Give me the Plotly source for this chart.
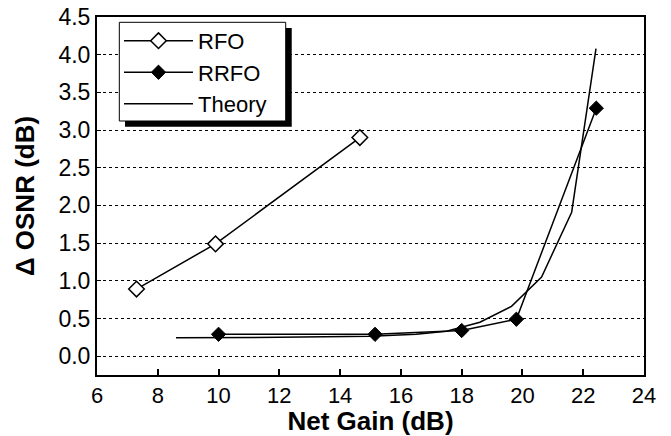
import plotly.graph_objects as go

# Data
rfo_gain = [7.3, 9.9, 14.65]
rfo_dosnr = [0.89, 1.49, 2.9]

rrfo_gain = [10.0, 15.15, 18.0, 19.8, 22.43]
rrfo_dosnr = [0.29, 0.29, 0.34, 0.49, 3.29]

theory_gain = [8.6, 12.0, 15.0, 16.5, 17.5, 18.6, 19.64, 20.63, 21.62, 22.42]
theory_dosnr = [0.245, 0.25, 0.265, 0.29, 0.33, 0.45, 0.66, 1.05, 1.91, 4.08]

x_ticks = [6, 8, 10, 12, 14, 16, 18, 20, 22, 24]
y_ticks = [0.0, 0.5, 1.0, 1.5, 2.0, 2.5, 3.0, 3.5, 4.0, 4.5]

FONT = "Liberation Sans, Arial, sans-serif"

fig = go.Figure()
fig.add_trace(go.Scatter(
    x=rfo_gain, y=rfo_dosnr, name="RFO", mode="lines+markers",
    line=dict(color="black", width=1.5),
    marker=dict(symbol="diamond", size=12, color="white",
                line=dict(color="black", width=1.5)),
))
fig.add_trace(go.Scatter(
    x=rrfo_gain, y=rrfo_dosnr, name="RRFO", mode="lines+markers",
    line=dict(color="black", width=1.5),
    marker=dict(symbol="diamond", size=11, color="black",
                line=dict(color="black", width=1)),
))
fig.add_trace(go.Scatter(
    x=theory_gain, y=theory_dosnr, name="Theory", mode="lines",
    line=dict(color="black", width=1.5),
))

# legend frame with drop shadow (legend itself is transparent on top)
fig.add_shape(type="rect", xref="paper", yref="paper",
              x0=0.0512, x1=0.356, y0=0.6936, y1=0.9693,
              fillcolor="black", line=dict(width=0), layer="above")
fig.add_shape(type="rect", xref="paper", yref="paper",
              x0=0.0408, x1=0.345, y0=0.7095, y1=0.9852,
              fillcolor="white", line=dict(color="black", width=1), layer="above")

fig.update_layout(
    width=671, height=436,
    margin=dict(l=97, r=27, t=17, b=61, autoexpand=False),
    paper_bgcolor="white", plot_bgcolor="white",
    font=dict(family=FONT, color="black", size=22),
    showlegend=True,
    legend=dict(x=0.0402, y=0.992, xanchor="left", yanchor="top",
                bgcolor="rgba(0,0,0,0)", borderwidth=0,
                font=dict(family=FONT, size=22), itemwidth=69,
                tracegroupgap=0),
    xaxis=dict(range=[6, 24], tickvals=x_ticks, ticktext=[str(v) for v in x_ticks],
               ticks="inside", ticklen=6, tickwidth=1.5, tickcolor="black",
               showline=True, linecolor="black", linewidth=2, mirror=True,
               showgrid=False, zeroline=False, automargin=False,
               ticklabeloverflow="allow",
               tickfont=dict(family=FONT, size=22),
               title=dict(text="<b>Net Gain (dB)</b>",
                          font=dict(family=FONT, size=26), standoff=3)),
    yaxis=dict(range=[-0.25, 4.5], tickvals=y_ticks,
               ticktext=["%.1f" % v for v in y_ticks],
               ticks="inside", ticklen=4, tickwidth=1, tickcolor="black",
               showline=True, linecolor="black", linewidth=2, mirror=True,
               showgrid=True, gridcolor="black", gridwidth=1, griddash="dot",
               zeroline=False, automargin=False,
               ticklabeloverflow="allow",
               tickfont=dict(family=FONT, size=23),
               title=dict(text="<b>Δ OSNR (dB)</b>",
                          font=dict(family=FONT, size=26), standoff=16)),
)

# remove the default 8px page margin so the figure sits at the window origin
fig.write_html("out.html",
               config={"displayModeBar": False},
               post_script="document.body.style.margin='0px';"
                           "document.documentElement.style.overflow='hidden';")
